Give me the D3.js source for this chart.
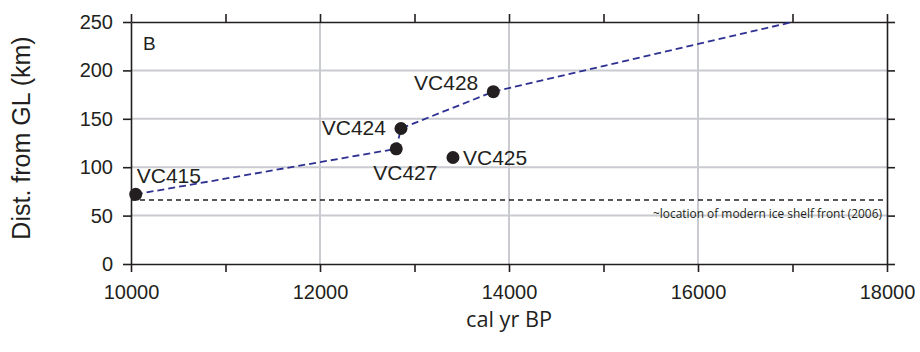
<!DOCTYPE html>
<html>
<head>
<meta charset="utf-8">
<script src="https://cdn.jsdelivr.net/npm/d3@7"></script>
<style>
  html, body { margin: 0; padding: 0; background: #fff; }
  svg { display: block; }
</style>
</head>
<body>
<div id="chart"></div>
<script>
// Core sites: calibrated age (cal yr BP) and distance from the grounding line (km)
const cores     = ["VC415", "VC427", "VC424", "VC425", "VC428"];
const ages      = [10050, 12807, 12857, 13407, 13834];
const distances = [72, 119, 140, 110, 178];

// Retreat trajectory (dashed blue), drawn through these cores and on to the chart edge
const pathCores = ["VC415", "VC427", "VC424", "VC428"];
const pathEnd   = { age: 17000, dist: 250 };

// Modern ice shelf front (2006)
const shelfFront = 66;

const xTicks = [10000, 11000, 12000, 13000, 14000, 15000, 16000, 17000, 18000];
const xTickLabels = [10000, 12000, 14000, 16000, 18000];
const yTicks = [0, 50, 100, 150, 200, 250];
const xGrid = [12000, 14000, 16000];
const yGrid = [50, 100, 150, 200];

const W = 920, H = 352;
const margin = { left: 131, right: 33, top: 22, bottom: 88 };
const iw = W - margin.left - margin.right;
const ih = H - margin.top - margin.bottom;

const ink = "#231f20";
const gridColor = "#c9cbd0";
const blue = "#2e3192";
const sans = "Liberation Sans, Arial, Helvetica, sans-serif";
const humanist = "'Open Sans', 'Noto Sans', sans-serif";

const svg = d3.select("#chart").append("svg")
  .attr("width", W).attr("height", H);

const x = d3.scaleLinear().domain([10000, 18000]).range([0, iw]);
const y = d3.scaleLinear().domain([0, 250]).range([ih, 0]);

const g = svg.append("g").attr("transform", `translate(${margin.left},${margin.top})`);

// grid
g.append("g").selectAll("line").data(xGrid).join("line")
  .attr("x1", d => x(d)).attr("x2", d => x(d))
  .attr("y1", 0).attr("y2", ih)
  .attr("stroke", gridColor).attr("stroke-width", 2);
g.append("g").selectAll("line").data(yGrid).join("line")
  .attr("x1", 0).attr("x2", iw)
  .attr("y1", d => y(d)).attr("y2", d => y(d))
  .attr("stroke", gridColor).attr("stroke-width", 2);

// axes: ticks on all four sides, pointing outward
function styleAxis(sel) {
  sel.select(".domain").attr("stroke", ink).attr("stroke-width", 1.6);
  sel.selectAll(".tick line").attr("stroke", ink).attr("stroke-width", 1.6);
  sel.selectAll(".tick text").attr("fill", ink).attr("font-family", sans);
}

const xBottom = g.append("g").attr("transform", `translate(0,${ih})`)
  .call(d3.axisBottom(x).tickValues(xTicks).tickSizeInner(8).tickSizeOuter(0)
    .tickPadding(13)
    .tickFormat(d => xTickLabels.includes(d) ? String(d) : ""));
styleAxis(xBottom);
xBottom.selectAll(".tick text").attr("font-size", 20);

const xTop = g.append("g")
  .call(d3.axisTop(x).tickValues(xTicks).tickSizeInner(8).tickSizeOuter(0).tickFormat(""));
styleAxis(xTop);

const yLeft = g.append("g")
  .call(d3.axisLeft(y).tickValues(yTicks).tickSizeInner(8).tickSizeOuter(0)
    .tickPadding(10).tickFormat(d3.format("d")));
styleAxis(yLeft);
yLeft.selectAll(".tick text").attr("font-size", 20);

const yRight = g.append("g").attr("transform", `translate(${iw},0)`)
  .call(d3.axisRight(y).tickValues(yTicks).tickSizeInner(8).tickSizeOuter(0).tickFormat(""));
styleAxis(yRight);

// modern ice shelf front
g.append("line")
  .attr("x1", 0).attr("x2", iw)
  .attr("y1", y(shelfFront)).attr("y2", y(shelfFront))
  .attr("stroke", ink).attr("stroke-width", 1.5)
  .attr("stroke-dasharray", "5,4");
g.append("text")
  .attr("x", iw - 5).attr("y", y(shelfFront) + 18)
  .attr("text-anchor", "end")
  .attr("font-family", humanist).attr("font-size", 12.5)
  .attr("textLength", 229).attr("lengthAdjust", "spacingAndGlyphs")
  .attr("fill", ink)
  .text("~location of modern ice shelf front (2006)");

// retreat trajectory
const pathPts = pathCores.map(c => {
  const i = cores.indexOf(c);
  return [ages[i], distances[i]];
}).concat([[pathEnd.age, pathEnd.dist]]);

g.append("path")
  .datum(pathPts)
  .attr("d", d3.line().x(d => x(d[0])).y(d => y(d[1])))
  .attr("fill", "none")
  .attr("stroke", blue).attr("stroke-width", 1.8)
  .attr("stroke-dasharray", "7,4");

// core sites
const sites = cores.map((c, i) => ({ name: c, age: ages[i], dist: distances[i] }));
g.append("g").selectAll("circle").data(sites).join("circle")
  .attr("cx", d => x(d.age)).attr("cy", d => y(d.dist))
  .attr("r", 6.5).attr("fill", ink);

// label placement relative to each site: [dx, dy, anchor]
const labelPlacement = {
  VC415: [1, -11, "start"],
  VC427: [-23, 31, "start"],
  VC424: [-15, 7, "end"],
  VC425: [10, 7, "start"],
  VC428: [-15, -2, "end"]
};
g.append("g").selectAll("text").data(sites).join("text")
  .attr("x", d => x(d.age) + labelPlacement[d.name][0])
  .attr("y", d => y(d.dist) + labelPlacement[d.name][1])
  .attr("text-anchor", d => labelPlacement[d.name][2])
  .attr("font-family", sans).attr("font-size", 21)
  .attr("fill", ink)
  .text(d => d.name);

// panel letter
g.append("text")
  .attr("x", 12).attr("y", 28)
  .attr("font-family", sans).attr("font-size", 19)
  .attr("fill", ink).text("B");

// axis titles
svg.append("text")
  .attr("transform", `translate(30,${margin.top + 116}) rotate(-90)`)
  .attr("text-anchor", "middle")
  .attr("font-family", sans).attr("font-size", 25)
  .attr("fill", ink)
  .text("Dist. from GL (km)");

svg.append("text")
  .attr("x", margin.left + x(14000)).attr("y", 327)
  .attr("text-anchor", "middle")
  .attr("font-family", humanist).attr("font-size", 21)
  .attr("textLength", 86).attr("lengthAdjust", "spacingAndGlyphs")
  .attr("fill", ink)
  .text("cal yr BP");
</script>
</body>
</html>
